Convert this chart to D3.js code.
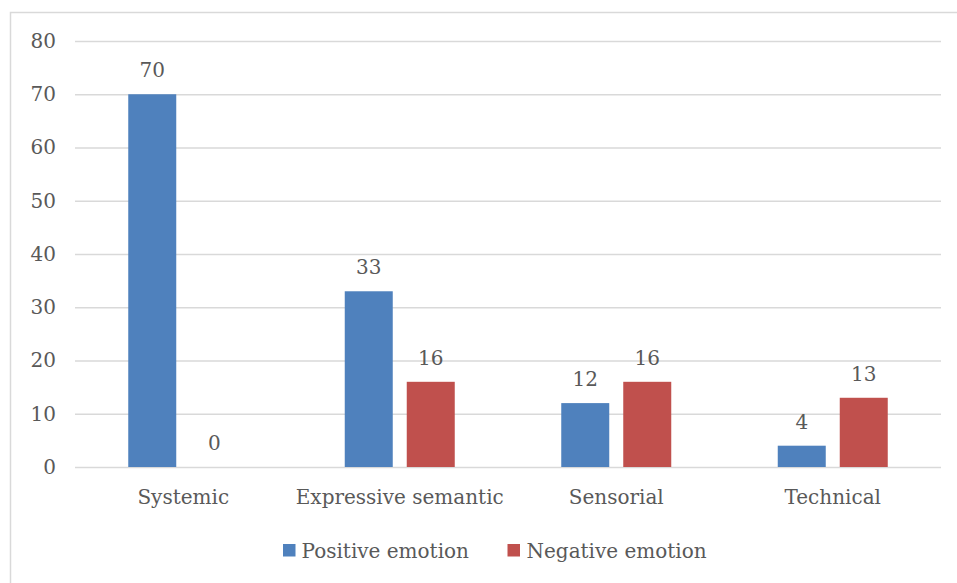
<!DOCTYPE html>
<html><head><meta charset="utf-8">
<script src="https://cdn.jsdelivr.net/npm/d3@7"></script>
<style>body{margin:0;background:#fff}text{font-family:"DejaVu Serif",serif;fill:#595959}</style>
</head><body><svg id="c" width="957" height="583"></svg>
<script>
const categories = ["Systemic","Expressive semantic","Sensorial","Technical"];
const seriesNames = ["Positive emotion","Negative emotion"];
const positive = [70,33,12,4];
const negative = [0,16,16,13];
const yTicks = [0,10,20,30,40,50,60,70,80];
const colors = ["#4F81BD","#C0504D"];

const svg = d3.select("#c");
const FS = 20;
const L = 75, R = 941, T = 41, B = 467;

svg.append("rect").attr("x",10.5).attr("y",12.5).attr("width",960).attr("height",600)
  .attr("fill","none").attr("stroke","#D9D9D9").attr("stroke-width",1.5);

const x = d3.scaleBand().domain(categories).range([L,R]);
const y = d3.scaleLinear().domain([0,80]).range([B,T]);

const yAxis = svg.append("g").attr("transform",`translate(${L},0)`)
  .call(d3.axisLeft(y).tickValues(yTicks).tickSize(-(R-L)).tickPadding(19));
yAxis.select(".domain").remove();
yAxis.selectAll("line").attr("stroke","#D9D9D9").attr("stroke-width",1.5);
yAxis.selectAll("text").attr("font-size",FS).attr("fill","#595959").style("font-family","DejaVu Serif");

const xAxis = svg.append("g").attr("transform",`translate(0,${B})`)
  .call(d3.axisBottom(x).tickSize(0).tickPadding(23));
xAxis.select(".domain").remove();
xAxis.selectAll("text").attr("font-size",FS).attr("fill","#595959").style("font-family","DejaVu Serif");

const barW = 48, gap = 14;
const data = [positive, negative];
data.forEach((vals, s) => {
  categories.forEach((c, i) => {
    const cx = x(c) + x.bandwidth()/2;
    const bx = s === 0 ? cx - gap/2 - barW : cx + gap/2;
    const v = vals[i];
    if (v > 0) {
      svg.append("rect").attr("x",bx).attr("y",y(v)).attr("width",barW).attr("height",y(0)-y(v))
        .attr("fill",colors[s]);
    }
    svg.append("text").attr("x",bx+barW/2).attr("y",y(v)-17)
      .attr("text-anchor","middle").attr("font-size",FS).text(v);
  });
});

const leg = svg.append("g");
const items = [{x:283, tx:301.5},{x:507.5, tx:526.5}];
seriesNames.forEach((n, s) => {
  leg.append("rect").attr("x",items[s].x).attr("y",544).attr("width",12.5).attr("height",12.5).attr("fill",colors[s]);
  leg.append("text").attr("x",items[s].tx).attr("y",558).attr("font-size",FS).text(n);
});
</script></body></html>
